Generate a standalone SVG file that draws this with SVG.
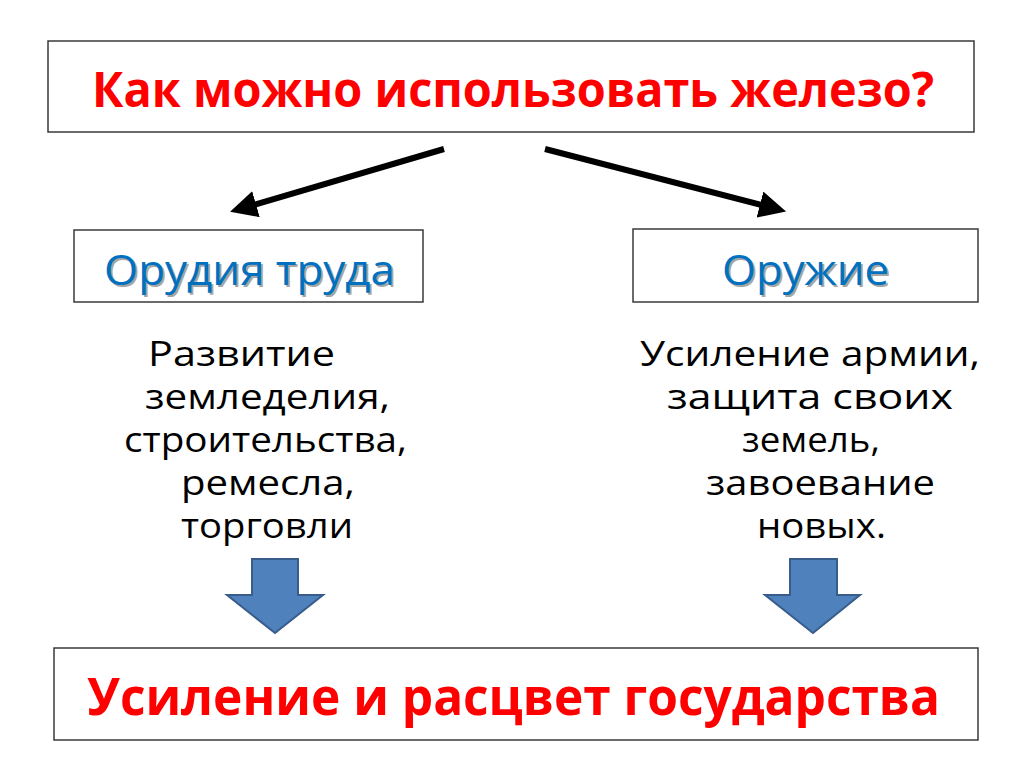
<svg xmlns="http://www.w3.org/2000/svg" width="1024" height="767" viewBox="0 0 1024 767">
<defs>
<style>
.box{fill:#fff;stroke:#3a3a3a;stroke-width:1.5}
.red{font-family:"Open Sans","Liberation Sans",sans-serif;font-weight:bold;fill:#ff0000}
.blue{font-family:"Open Sans","Liberation Sans",sans-serif;font-size:42px;fill:#0070c0}
.shadow{font-family:"Open Sans","Liberation Sans",sans-serif;font-size:42px;fill:#000;opacity:0.35}
.body{font-family:"Open Sans","Liberation Sans",sans-serif;font-size:34px;fill:#000}
.conn{stroke:#000;stroke-width:6;fill:none}
.blk{fill:#4f81bd;stroke:#385d8a;stroke-width:2}
</style>
<marker id="ah" viewBox="0 0 10 10" refX="5" refY="5" markerWidth="4.5" markerHeight="4.5" orient="auto" markerUnits="strokeWidth">
<path d="M0,0 L10,5 L0,10 z" fill="#000"/>
</marker>
</defs>
<rect width="1024" height="767" fill="#fff"/>
<g id="question">
<rect class="box" x="48" y="41" width="926" height="91"/>
<text class="red" x="92" y="107" font-size="49" textLength="842" lengthAdjust="spacingAndGlyphs">Как можно использовать железо?</text>
</g>
<g id="connectors">
<line class="conn" x1="444" y1="149" x2="243" y2="208" marker-end="url(#ah)"/>
<line class="conn" x1="545" y1="149" x2="773" y2="208" marker-end="url(#ah)"/>
<path class="blk" d="M252,559 H298 V595 H323 L275,633 L227,595 H252 Z"/>
<path class="blk" d="M790,559 H837 V595 H860 L813,633 L765,595 H790 Z"/>
</g>
<g id="tools">
<rect class="box" x="74" y="230" width="349" height="72"/>
<text class="shadow" x="106" y="287" textLength="291" lengthAdjust="spacingAndGlyphs">Орудия труда</text>
<text class="blue" x="104" y="285" textLength="291" lengthAdjust="spacingAndGlyphs">Орудия труда</text>
</g>
<g id="weapons">
<rect class="box" x="633" y="229" width="345" height="73"/>
<text class="shadow" x="724" y="287" textLength="167" lengthAdjust="spacingAndGlyphs">Оружие</text>
<text class="blue" x="722" y="285" textLength="167" lengthAdjust="spacingAndGlyphs">Оружие</text>
</g>
<g id="tools-text">
<text class="body" x="148" y="366" textLength="187" lengthAdjust="spacingAndGlyphs">Развитие</text>
<text class="body" x="145" y="409" textLength="245" lengthAdjust="spacingAndGlyphs">земледелия,</text>
<text class="body" x="124" y="452" textLength="283" lengthAdjust="spacingAndGlyphs">строительства,</text>
<text class="body" x="181" y="495" textLength="174" lengthAdjust="spacingAndGlyphs">ремесла,</text>
<text class="body" x="181" y="538" textLength="172" lengthAdjust="spacingAndGlyphs">торговли</text>
</g>
<g id="weapons-text">
<text class="body" x="640" y="366" textLength="340" lengthAdjust="spacingAndGlyphs">Усиление армии,</text>
<text class="body" x="667" y="409" textLength="286" lengthAdjust="spacingAndGlyphs">защита своих</text>
<text class="body" x="742" y="452" textLength="138" lengthAdjust="spacingAndGlyphs">земель,</text>
<text class="body" x="706" y="495" textLength="229" lengthAdjust="spacingAndGlyphs">завоевание</text>
<text class="body" x="757" y="538" textLength="129" lengthAdjust="spacingAndGlyphs">новых.</text>
</g>
<g id="result">
<rect class="box" x="54" y="648" width="924" height="92"/>
<text class="red" x="87" y="715" font-size="52" textLength="853" lengthAdjust="spacingAndGlyphs">Усиление и расцвет государства</text>
</g>
</svg>
